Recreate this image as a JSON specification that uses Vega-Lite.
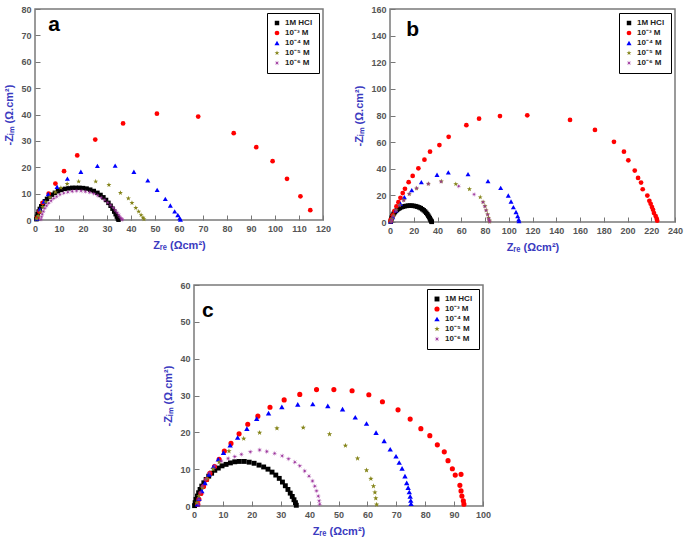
{
  "$schema": "https://vega.github.io/schema/vega-lite/v6.json",
  "padding": {"left": 3, "top": 4, "right": 5, "bottom": 5},
  "background": "white",
  "config": {
    "view": {"stroke": "#7a7a7a", "strokeWidth": 1.5},
    "axis": {"labelFont": "Liberation Sans", "labelFontSize": 9, "labelFontWeight": "bold", "labelColor": "#555555", "titleFont": "Liberation Sans", "titleFontSize": 11, "titleFontWeight": "bold", "titleColor": "#3b3bbf", "domain": false, "grid": false, "tickColor": "#777777", "tickSize": -5, "labelPadding": 9, "titlePadding": 6, "labelOverlap": false, "labelFlush": false},
    "legend": {"title": null, "orient": "top-right", "offset": 4, "fillColor": "white", "strokeColor": "black", "strokeWidth": 1, "padding": 6, "labelFont": "Liberation Sans", "labelFontSize": 8, "labelFontWeight": "bold", "labelColor": "#222222", "symbolSize": 34, "rowPadding": 2, "symbolStrokeWidth": 0},
    "text": {"font": "Liberation Sans"}
  },
  "datasets": {
    "a": [
      {"s":"H","x":0.6,"y":0.3},{"s":"H","x":0.8,"y":1.2},{"s":"H","x":1.1,"y":2.2},{"s":"H","x":1.5,"y":3.2},{"s":"H","x":2,"y":4.2},{"s":"H","x":2.6,"y":5.2},{"s":"H","x":3.3,"y":6.2},{"s":"H","x":4.1,"y":7.1},{"s":"H","x":5,"y":8},{"s":"H","x":6,"y":8.8},{"s":"H","x":7.1,"y":9.6},{"s":"H","x":8.3,"y":10.3},{"s":"H","x":9.6,"y":10.9},{"s":"H","x":11,"y":11.4},{"s":"H","x":12.5,"y":11.8},{"s":"H","x":14,"y":12},{"s":"H","x":15.5,"y":12.2},{"s":"H","x":17,"y":12.2},{"s":"H","x":18.5,"y":12.2},{"s":"H","x":20,"y":12.1},{"s":"H","x":21.5,"y":11.9},{"s":"H","x":23,"y":11.5},{"s":"H","x":24.5,"y":11},{"s":"H","x":26,"y":10.3},{"s":"H","x":27.3,"y":9.5},{"s":"H","x":28.5,"y":8.6},{"s":"H","x":29.6,"y":7.6},{"s":"H","x":30.6,"y":6.5},{"s":"H","x":31.5,"y":5.4},{"s":"H","x":32.3,"y":4.3},{"s":"H","x":33,"y":3.2},{"s":"H","x":33.6,"y":2.2},{"s":"H","x":34.1,"y":1.3},{"s":"H","x":34.5,"y":0.6},{"s":"H","x":34.8,"y":0.1},
      {"s":"3","x":1,"y":0.8},{"s":"3","x":1.8,"y":3.2},{"s":"3","x":3.2,"y":6.5},{"s":"3","x":5.7,"y":10},{"s":"3","x":8.5,"y":13.8},{"s":"3","x":12.1,"y":18.5},{"s":"3","x":17.6,"y":24.5},{"s":"3","x":25.1,"y":30.5},{"s":"3","x":36.7,"y":36.6},{"s":"3","x":50.8,"y":40.3},{"s":"3","x":68,"y":39.2},{"s":"3","x":82.8,"y":32.9},{"s":"3","x":92.2,"y":27.6},{"s":"3","x":99,"y":22.3},{"s":"3","x":105,"y":15.6},{"s":"3","x":110.6,"y":9},{"s":"3","x":114.7,"y":3.7},
      {"s":"4","x":0.8,"y":0.5},{"s":"4","x":2,"y":4},{"s":"4","x":3.7,"y":7},{"s":"4","x":5.5,"y":9.8},{"s":"4","x":9.2,"y":12.6},{"s":"4","x":13.5,"y":15.7},{"s":"4","x":19.1,"y":18.3},{"s":"4","x":26,"y":20.5},{"s":"4","x":33.4,"y":20.6},{"s":"4","x":41.2,"y":18.3},{"s":"4","x":47,"y":15},{"s":"4","x":50.9,"y":11.4},{"s":"4","x":54.3,"y":8},{"s":"4","x":56.4,"y":5.5},{"s":"4","x":58.2,"y":3.3},{"s":"4","x":59.5,"y":1.9},{"s":"4","x":60.3,"y":0.7},{"s":"4","x":60.6,"y":0.2},
      {"s":"5","x":0.7,"y":0.5},{"s":"5","x":1.3,"y":1.6},{"s":"5","x":2.3,"y":3.2},{"s":"5","x":3.2,"y":5},{"s":"5","x":4.5,"y":6.8},{"s":"5","x":6.2,"y":8.6},{"s":"5","x":8.5,"y":10.5},{"s":"5","x":10.8,"y":12.2},{"s":"5","x":13.4,"y":13.7},{"s":"5","x":18.2,"y":14.6},{"s":"5","x":25.3,"y":14.6},{"s":"5","x":30.8,"y":13.3},{"s":"5","x":35.6,"y":10.3},{"s":"5","x":38.9,"y":8.2},{"s":"5","x":40.4,"y":6.5},{"s":"5","x":42,"y":4.6},{"s":"5","x":43.2,"y":3.2},{"s":"5","x":44.2,"y":1.9},{"s":"5","x":45,"y":0.9},{"s":"5","x":45.4,"y":0.3},
      {"s":"6","x":2.5,"y":0.2},{"s":"6","x":2.7,"y":1.2},{"s":"6","x":3,"y":2.2},{"s":"6","x":3.5,"y":3.3},{"s":"6","x":4.1,"y":4.4},{"s":"6","x":4.8,"y":5.4},{"s":"6","x":5.7,"y":6.4},{"s":"6","x":6.7,"y":7.3},{"s":"6","x":7.8,"y":8.2},{"s":"6","x":9,"y":8.9},{"s":"6","x":10.4,"y":9.6},{"s":"6","x":12,"y":10.2},{"s":"6","x":13.7,"y":10.6},{"s":"6","x":15.5,"y":10.9},{"s":"6","x":17.3,"y":11},{"s":"6","x":19.2,"y":11},{"s":"6","x":21,"y":10.8},{"s":"6","x":22.8,"y":10.5},{"s":"6","x":24.5,"y":10},{"s":"6","x":26.1,"y":9.3},{"s":"6","x":27.6,"y":8.5},{"s":"6","x":29,"y":7.6},{"s":"6","x":30.3,"y":6.6},{"s":"6","x":31.5,"y":5.6},{"s":"6","x":32.6,"y":4.6},{"s":"6","x":33.5,"y":3.6},{"s":"6","x":34.3,"y":2.7},{"s":"6","x":35,"y":1.8},{"s":"6","x":35.6,"y":1},{"s":"6","x":36.1,"y":0.4},{"s":"6","x":36.4,"y":0.1}
    ],
    "b": [
      {"s":"H","x":0.6,"y":0.2},{"s":"H","x":0.8,"y":1.2},{"s":"H","x":1.1,"y":2.3},{"s":"H","x":1.5,"y":3.4},{"s":"H","x":2,"y":4.5},{"s":"H","x":2.6,"y":5.5},{"s":"H","x":3.3,"y":6.5},{"s":"H","x":4.1,"y":7.4},{"s":"H","x":5,"y":8.3},{"s":"H","x":6,"y":9.1},{"s":"H","x":7.1,"y":9.9},{"s":"H","x":8.3,"y":10.5},{"s":"H","x":9.6,"y":11.1},{"s":"H","x":11,"y":11.5},{"s":"H","x":12.5,"y":11.9},{"s":"H","x":14,"y":12.1},{"s":"H","x":15.5,"y":12.3},{"s":"H","x":17,"y":12.3},{"s":"H","x":18.5,"y":12.3},{"s":"H","x":20,"y":12.1},{"s":"H","x":21.5,"y":11.9},{"s":"H","x":23,"y":11.5},{"s":"H","x":24.5,"y":11},{"s":"H","x":25.9,"y":10.4},{"s":"H","x":27.2,"y":9.6},{"s":"H","x":28.4,"y":8.8},{"s":"H","x":29.5,"y":7.9},{"s":"H","x":30.5,"y":6.9},{"s":"H","x":31.4,"y":5.9},{"s":"H","x":32.2,"y":4.8},{"s":"H","x":32.9,"y":3.8},{"s":"H","x":33.5,"y":2.8},{"s":"H","x":34,"y":1.9},{"s":"H","x":34.5,"y":1.1},{"s":"H","x":34.9,"y":0.4},{"s":"H","x":35.2,"y":0.1},
      {"s":"3","x":0.5,"y":0.5},{"s":"3","x":0.9,"y":2},{"s":"3","x":2.3,"y":5},{"s":"3","x":3.7,"y":8.2},{"s":"3","x":5.4,"y":11.7},{"s":"3","x":7.1,"y":14.9},{"s":"3","x":8.8,"y":18.2},{"s":"3","x":10.7,"y":21.7},{"s":"3","x":12.6,"y":24.9},{"s":"3","x":15.7,"y":29.9},{"s":"3","x":19.1,"y":34.6},{"s":"3","x":23.9,"y":40.3},{"s":"3","x":29,"y":46.8},{"s":"3","x":33.7,"y":52.8},{"s":"3","x":41.6,"y":57.8},{"s":"3","x":49.4,"y":64},{"s":"3","x":64.3,"y":72.7},{"s":"3","x":75,"y":77.6},{"s":"3","x":92.6,"y":79.6},{"s":"3","x":115.6,"y":80.1},{"s":"3","x":151.6,"y":76.7},{"s":"3","x":172.6,"y":69.2},{"s":"3","x":188.6,"y":60.2},{"s":"3","x":197,"y":52.8},{"s":"3","x":200.7,"y":46.3},{"s":"3","x":206.1,"y":38.6},{"s":"3","x":208.9,"y":33.1},{"s":"3","x":211.4,"y":29.6},{"s":"3","x":212.8,"y":24.6},{"s":"3","x":216.7,"y":19.9},{"s":"3","x":218.4,"y":15.9},{"s":"3","x":219.5,"y":13.7},{"s":"3","x":220.6,"y":11.2},{"s":"3","x":221.5,"y":9.2},{"s":"3","x":222.3,"y":6.7},{"s":"3","x":223.7,"y":4.5},{"s":"3","x":224.6,"y":2.5},{"s":"3","x":225,"y":1},
      {"s":"4","x":0.6,"y":0.5},{"s":"4","x":2.3,"y":3.7},{"s":"4","x":5,"y":8.7},{"s":"4","x":8.8,"y":13.7},{"s":"4","x":12.1,"y":18.7},{"s":"4","x":18.3,"y":23.9},{"s":"4","x":26.4,"y":29.9},{"s":"4","x":39.6,"y":35.5},{"s":"4","x":49.1,"y":37.3},{"s":"4","x":65.7,"y":36},{"s":"4","x":82.5,"y":30.7},{"s":"4","x":93.2,"y":25.6},{"s":"4","x":99.6,"y":19.9},{"s":"4","x":101.9,"y":15.4},{"s":"4","x":103.9,"y":11.2},{"s":"4","x":106.1,"y":7.5},{"s":"4","x":107.5,"y":4.5},{"s":"4","x":108.4,"y":2},{"s":"4","x":108.6,"y":0.7},
      {"s":"5","x":0.8,"y":0.5},{"s":"5","x":1.6,"y":2.2},{"s":"5","x":3,"y":4.8},{"s":"5","x":5.2,"y":8.9},{"s":"5","x":8,"y":12.7},{"s":"5","x":11.6,"y":16.4},{"s":"5","x":16.2,"y":21},{"s":"5","x":22.4,"y":25.2},{"s":"5","x":32.3,"y":28.7},{"s":"5","x":43.2,"y":30.5},{"s":"5","x":55.4,"y":28.5},{"s":"5","x":66.9,"y":24.7},{"s":"5","x":76,"y":18.6},{"s":"5","x":78.4,"y":15},{"s":"5","x":80,"y":11.9},{"s":"5","x":81,"y":8.8},{"s":"5","x":82.2,"y":5.8},{"s":"5","x":83,"y":3.2},{"s":"5","x":83.6,"y":1.2},{"s":"5","x":83.8,"y":0.3},
      {"s":"6","x":1.2,"y":0.4},{"s":"6","x":1.4,"y":1.7},{"s":"6","x":2.8,"y":4.5},{"s":"6","x":5,"y":8.7},{"s":"6","x":7.9,"y":12.5},{"s":"6","x":11.5,"y":16.2},{"s":"6","x":16.3,"y":21.1},{"s":"6","x":22.5,"y":25.4},{"s":"6","x":32.3,"y":28.6},{"s":"6","x":43,"y":30.4},{"s":"6","x":57.9,"y":26.9},{"s":"6","x":70.8,"y":20.7},{"s":"6","x":78.3,"y":14.9},{"s":"6","x":79.8,"y":11.7},{"s":"6","x":80.9,"y":8.7},{"s":"6","x":82.3,"y":5.5},{"s":"6","x":83.1,"y":2.5},{"s":"6","x":83.5,"y":1.2},{"s":"6","x":84,"y":0.3}
    ],
    "c": [
      {"s":"H","x":0.2,"y":0.1},{"s":"H","x":0.4,"y":0.9},{"s":"H","x":0.7,"y":1.8},{"s":"H","x":1.2,"y":2.7},{"s":"H","x":1.6,"y":3.6},{"s":"H","x":2.1,"y":4.5},{"s":"H","x":2.7,"y":5.4},{"s":"H","x":3.4,"y":6.3},{"s":"H","x":4.2,"y":7.2},{"s":"H","x":5.1,"y":8.1},{"s":"H","x":6.1,"y":8.9},{"s":"H","x":7.2,"y":9.7},{"s":"H","x":8.4,"y":10.3},{"s":"H","x":9.7,"y":10.9},{"s":"H","x":11.1,"y":11.3},{"s":"H","x":12.6,"y":11.7},{"s":"H","x":14.1,"y":12},{"s":"H","x":15.7,"y":12.1},{"s":"H","x":17.4,"y":12.1},{"s":"H","x":19.1,"y":11.9},{"s":"H","x":20.8,"y":11.6},{"s":"H","x":22.5,"y":11.1},{"s":"H","x":24.1,"y":10.6},{"s":"H","x":25.6,"y":10},{"s":"H","x":27,"y":9.2},{"s":"H","x":28.3,"y":8.4},{"s":"H","x":29.5,"y":7.5},{"s":"H","x":30.6,"y":6.5},{"s":"H","x":31.6,"y":5.5},{"s":"H","x":32.5,"y":4.5},{"s":"H","x":33.3,"y":3.5},{"s":"H","x":34,"y":2.6},{"s":"H","x":34.6,"y":1.7},{"s":"H","x":35.1,"y":0.9},{"s":"H","x":35.4,"y":0.2},
      {"s":"3","x":1.3,"y":0.5},{"s":"3","x":1.7,"y":1.8},{"s":"3","x":2.4,"y":3.4},{"s":"3","x":3.3,"y":5.3},{"s":"3","x":4.4,"y":7.2},{"s":"3","x":5.5,"y":8.9},{"s":"3","x":7.1,"y":10.7},{"s":"3","x":8.7,"y":12.7},{"s":"3","x":10.5,"y":14.9},{"s":"3","x":12.8,"y":17},{"s":"3","x":15.6,"y":19.6},{"s":"3","x":18.6,"y":22.2},{"s":"3","x":22.1,"y":24.4},{"s":"3","x":26.3,"y":26.8},{"s":"3","x":31.2,"y":28.8},{"s":"3","x":36.6,"y":30.3},{"s":"3","x":42.4,"y":31.6},{"s":"3","x":48.4,"y":31.6},{"s":"3","x":54.7,"y":31.3},{"s":"3","x":60.5,"y":30.2},{"s":"3","x":65.2,"y":28.3},{"s":"3","x":70.6,"y":26.1},{"s":"3","x":74.8,"y":23.6},{"s":"3","x":78.5,"y":21},{"s":"3","x":81.6,"y":19.1},{"s":"3","x":84.2,"y":16.6},{"s":"3","x":86.6,"y":14.7},{"s":"3","x":87.9,"y":12.3},{"s":"3","x":89.4,"y":10.1},{"s":"3","x":90.4,"y":8.4},{"s":"3","x":92.4,"y":8.6},{"s":"3","x":92,"y":5.6},{"s":"3","x":92.4,"y":4.1},{"s":"3","x":92.7,"y":2.7},{"s":"3","x":93.2,"y":1.4},{"s":"3","x":93.4,"y":0.5},
      {"s":"4","x":1.2,"y":0.5},{"s":"4","x":1.7,"y":2},{"s":"4","x":2.7,"y":4.1},{"s":"4","x":3.8,"y":6.3},{"s":"4","x":5.2,"y":8.6},{"s":"4","x":6.7,"y":10.7},{"s":"4","x":8.4,"y":12.7},{"s":"4","x":10.2,"y":14.5},{"s":"4","x":12.5,"y":16.5},{"s":"4","x":15.1,"y":18.6},{"s":"4","x":18.3,"y":21},{"s":"4","x":21.7,"y":23.7},{"s":"4","x":25.8,"y":25.2},{"s":"4","x":30.4,"y":26.9},{"s":"4","x":35.9,"y":27.6},{"s":"4","x":41.1,"y":27.7},{"s":"4","x":46.3,"y":27.2},{"s":"4","x":51.4,"y":26.3},{"s":"4","x":55.8,"y":24.1},{"s":"4","x":59.7,"y":22.4},{"s":"4","x":63,"y":19.9},{"s":"4","x":65.8,"y":17.7},{"s":"4","x":67.9,"y":15.4},{"s":"4","x":69.9,"y":13.5},{"s":"4","x":71,"y":11.8},{"s":"4","x":72,"y":10.2},{"s":"4","x":73,"y":8.1},{"s":"4","x":73.6,"y":6.3},{"s":"4","x":74.1,"y":5},{"s":"4","x":74.5,"y":3.8},{"s":"4","x":74.8,"y":2.6},{"s":"4","x":75,"y":1.5},{"s":"4","x":75.1,"y":0.6},
      {"s":"5","x":1,"y":0.9},{"s":"5","x":1.7,"y":2.7},{"s":"5","x":2.9,"y":5},{"s":"5","x":4.5,"y":7.4},{"s":"5","x":6.6,"y":10},{"s":"5","x":8.7,"y":11.9},{"s":"5","x":12.1,"y":14.9},{"s":"5","x":17.2,"y":18.3},{"s":"5","x":22.7,"y":19.9},{"s":"5","x":28.7,"y":21.1},{"s":"5","x":37.8,"y":21.3},{"s":"5","x":46.9,"y":19.5},{"s":"5","x":52.4,"y":16.4},{"s":"5","x":56.6,"y":12.9},{"s":"5","x":59.7,"y":9.7},{"s":"5","x":61.2,"y":7.4},{"s":"5","x":62.1,"y":5.4},{"s":"5","x":62.6,"y":3.7},{"s":"5","x":62.9,"y":2.1},{"s":"5","x":63.2,"y":0.4},
      {"s":"6","x":1.6,"y":0.5},{"s":"6","x":1.7,"y":1.8},{"s":"6","x":2.2,"y":3.6},{"s":"6","x":2.9,"y":5.4},{"s":"6","x":4,"y":7.2},{"s":"6","x":5.4,"y":9},{"s":"6","x":7.2,"y":10.9},{"s":"6","x":9.5,"y":12.2},{"s":"6","x":11.8,"y":12.9},{"s":"6","x":14.1,"y":13.4},{"s":"6","x":16.4,"y":14},{"s":"6","x":19.5,"y":14.7},{"s":"6","x":22.7,"y":15.2},{"s":"6","x":25.2,"y":14.8},{"s":"6","x":27.9,"y":14.3},{"s":"6","x":30.5,"y":13.6},{"s":"6","x":32.7,"y":12.8},{"s":"6","x":34.9,"y":11.9},{"s":"6","x":36.6,"y":10.9},{"s":"6","x":38.3,"y":9.5},{"s":"6","x":39.8,"y":8.1},{"s":"6","x":41,"y":6.8},{"s":"6","x":41.8,"y":5.4},{"s":"6","x":42.4,"y":4.1},{"s":"6","x":43,"y":2.7},{"s":"6","x":43.3,"y":1.4},{"s":"6","x":43.5,"y":0.5}
    ]
  },
  "spacing": 27,
  "resolve": {"scale": {"color": "independent", "shape": "independent", "size": "independent"}, "legend": {"color": "independent", "shape": "independent"}},
  "vconcat": [
    {
      "spacing": 21,
      "resolve": {"scale": {"color": "independent", "shape": "independent", "size": "independent"}, "legend": {"color": "independent", "shape": "independent"}},
      "hconcat": [
        {
          "width": 288, "height": 211,
          "layer": [
            {
              "data": {"name": "a"},
              "mark": {"type": "point", "filled": true, "opacity": 1},
              "encoding": {
                "x": {"field": "x", "type": "quantitative", "scale": {"domain": [0, 120], "nice": false}, "axis": {"values": [0,10,20,30,40,50,60,70,80,90,100,110,120], "labelOverlap": false, "title": "Zᵣₑ (Ωcm²)"}},
                "y": {"field": "y", "type": "quantitative", "scale": {"domain": [0, 80], "nice": false}, "axis": {"values": [0,10,20,30,40,50,60,70,80], "labelOverlap": false, "title": "-Zᵢₘ (Ω.cm²)"}},
                "size": {"field": "s", "type": "nominal", "scale": {"domain": ["H","3","4","5","6"], "range": [20, 30, 34, 48, 44]}, "legend": null},
                "color": {"field": "s", "type": "nominal", "scale": {"domain": ["H","3","4","5","6"], "range": ["#000000","#ff0000","#0000ff","#85851a","#9a2f9a"]}, "legend": {"labelExpr": "{'H':'1M HCl','3':'10⁻³ M','4':'10⁻⁴ M','5':'10⁻⁵ M','6':'10⁻⁶ M'}[datum.value]"}},
                "shape": {"field": "s", "type": "nominal", "scale": {"domain": ["H","3","4","5","6"], "range": ["square","circle","triangle-up","M0,-1L0.235,-0.324L0.951,-0.309L0.38,0.124L0.588,0.809L0,0.4L-0.588,0.809L-0.38,0.124L-0.951,-0.309L-0.235,-0.324Z","M1,0L0.231,0.096L0.707,0.707L0.096,0.231L0,1L-0.096,0.231L-0.707,0.707L-0.231,0.096L-1,0L-0.231,-0.096L-0.707,-0.707L-0.096,-0.231L0,-1L0.096,-0.231L0.707,-0.707L0.231,-0.096Z"]}, "legend": {"labelExpr": "{'H':'1M HCl','3':'10⁻³ M','4':'10⁻⁴ M','5':'10⁻⁵ M','6':'10⁻⁶ M'}[datum.value]"}}
              }
            },
            {
              "data": {"values": [{}]},
              "mark": {"type": "text", "fontSize": 21, "fontWeight": "bold", "align": "center", "baseline": "middle", "color": "black"},
              "encoding": {
                "x": {"datum": 8, "type": "quantitative", "axis": {"values": [0,10,20,30,40,50,60,70,80,90,100,110,120], "labelOverlap": false, "title": "Zᵣₑ (Ωcm²)"}},
                "y": {"datum": 74, "type": "quantitative", "axis": {"values": [0,10,20,30,40,50,60,70,80], "labelOverlap": false, "title": "-Zᵢₘ (Ω.cm²)"}},
                "text": {"value": "a"}}
            }
          ]
        },
        {
          "width": 285, "height": 213,
          "layer": [
            {
              "data": {"name": "b"},
              "mark": {"type": "point", "filled": true, "opacity": 1},
              "encoding": {
                "x": {"field": "x", "type": "quantitative", "scale": {"domain": [0, 240], "nice": false}, "axis": {"values": [0,20,40,60,80,100,120,140,160,180,200,220,240], "labelOverlap": false, "title": "Zᵣₑ (Ωcm²)"}},
                "y": {"field": "y", "type": "quantitative", "scale": {"domain": [0, 160], "nice": false}, "axis": {"values": [0,20,40,60,80,100,120,140,160], "labelOverlap": false, "title": "-Zᵢₘ (Ω.cm²)"}},
                "size": {"field": "s", "type": "nominal", "scale": {"domain": ["H","3","4","5","6"], "range": [20, 30, 34, 48, 44]}, "legend": null},
                "color": {"field": "s", "type": "nominal", "scale": {"domain": ["H","3","4","5","6"], "range": ["#000000","#ff0000","#0000ff","#85851a","#9a2f9a"]}, "legend": {"labelExpr": "{'H':'1M HCl','3':'10⁻³ M','4':'10⁻⁴ M','5':'10⁻⁵ M','6':'10⁻⁶ M'}[datum.value]"}},
                "shape": {"field": "s", "type": "nominal", "scale": {"domain": ["H","3","4","5","6"], "range": ["square","circle","triangle-up","M0,-1L0.235,-0.324L0.951,-0.309L0.38,0.124L0.588,0.809L0,0.4L-0.588,0.809L-0.38,0.124L-0.951,-0.309L-0.235,-0.324Z","M1,0L0.231,0.096L0.707,0.707L0.096,0.231L0,1L-0.096,0.231L-0.707,0.707L-0.231,0.096L-1,0L-0.231,-0.096L-0.707,-0.707L-0.096,-0.231L0,-1L0.096,-0.231L0.707,-0.707L0.231,-0.096Z"]}, "legend": {"labelExpr": "{'H':'1M HCl','3':'10⁻³ M','4':'10⁻⁴ M','5':'10⁻⁵ M','6':'10⁻⁶ M'}[datum.value]"}}
              }
            },
            {
              "data": {"values": [{}]},
              "mark": {"type": "text", "fontSize": 21, "fontWeight": "bold", "align": "center", "baseline": "middle", "color": "black"},
              "encoding": {
                "x": {"datum": 19, "type": "quantitative", "axis": {"values": [0,20,40,60,80,100,120,140,160,180,200,220,240], "labelOverlap": false, "title": "Zᵣₑ (Ωcm²)"}},
                "y": {"datum": 144, "type": "quantitative", "axis": {"values": [0,20,40,60,80,100,120,140,160], "labelOverlap": false, "title": "-Zᵢₘ (Ω.cm²)"}},
                "text": {"value": "b"}}
            }
          ]
        }
      ]
    },
    {
      "spacing": 0,
      "resolve": {"scale": {"color": "independent", "shape": "independent", "size": "independent"}, "legend": {"color": "independent", "shape": "independent"}},
      "hconcat": [
        {
          "width": 127, "height": 221,
          "view": {"stroke": null},
          "data": {"values": [{}]},
          "mark": {"type": "text"},
          "encoding": {"text": {"value": ""}}
        },
        {
          "width": 289, "height": 221,
          "layer": [
            {
              "data": {"name": "c"},
              "mark": {"type": "point", "filled": true, "opacity": 1},
              "encoding": {
                "x": {"field": "x", "type": "quantitative", "scale": {"domain": [0, 100], "nice": false}, "axis": {"values": [0,10,20,30,40,50,60,70,80,90,100], "labelOverlap": false, "title": "Zᵣₑ (Ωcm²)"}},
                "y": {"field": "y", "type": "quantitative", "scale": {"domain": [0, 60], "nice": false}, "axis": {"values": [0,10,20,30,40,50,60], "labelOverlap": false, "title": "-Zᵢₘ (Ω.cm²)"}},
                "size": {"field": "s", "type": "nominal", "scale": {"domain": ["H","3","4","5","6"], "range": [24, 34, 38, 50, 46]}, "legend": null},
                "color": {"field": "s", "type": "nominal", "scale": {"domain": ["H","3","4","5","6"], "range": ["#000000","#ff0000","#0000ff","#85851a","#9a2f9a"]}, "legend": {"labelExpr": "{'H':'1M HCl','3':'10⁻³ M','4':'10⁻⁴ M','5':'10⁻⁵ M','6':'10⁻⁶ M'}[datum.value]"}},
                "shape": {"field": "s", "type": "nominal", "scale": {"domain": ["H","3","4","5","6"], "range": ["square","circle","triangle-up","M0,-1L0.235,-0.324L0.951,-0.309L0.38,0.124L0.588,0.809L0,0.4L-0.588,0.809L-0.38,0.124L-0.951,-0.309L-0.235,-0.324Z","M1,0L0.231,0.096L0.707,0.707L0.096,0.231L0,1L-0.096,0.231L-0.707,0.707L-0.231,0.096L-1,0L-0.231,-0.096L-0.707,-0.707L-0.096,-0.231L0,-1L0.096,-0.231L0.707,-0.707L0.231,-0.096Z"]}, "legend": {"labelExpr": "{'H':'1M HCl','3':'10⁻³ M','4':'10⁻⁴ M','5':'10⁻⁵ M','6':'10⁻⁶ M'}[datum.value]"}}
              }
            },
            {
              "data": {"values": [{}]},
              "mark": {"type": "text", "fontSize": 21, "fontWeight": "bold", "align": "center", "baseline": "middle", "color": "black"},
              "encoding": {
                "x": {"datum": 4.8, "type": "quantitative", "axis": {"values": [0,10,20,30,40,50,60,70,80,90,100], "labelOverlap": false, "title": "Zᵣₑ (Ωcm²)"}},
                "y": {"datum": 53, "type": "quantitative", "axis": {"values": [0,10,20,30,40,50,60], "labelOverlap": false, "title": "-Zᵢₘ (Ω.cm²)"}},
                "text": {"value": "c"}}
            }
          ]
        }
      ]
    }
  ]
}
